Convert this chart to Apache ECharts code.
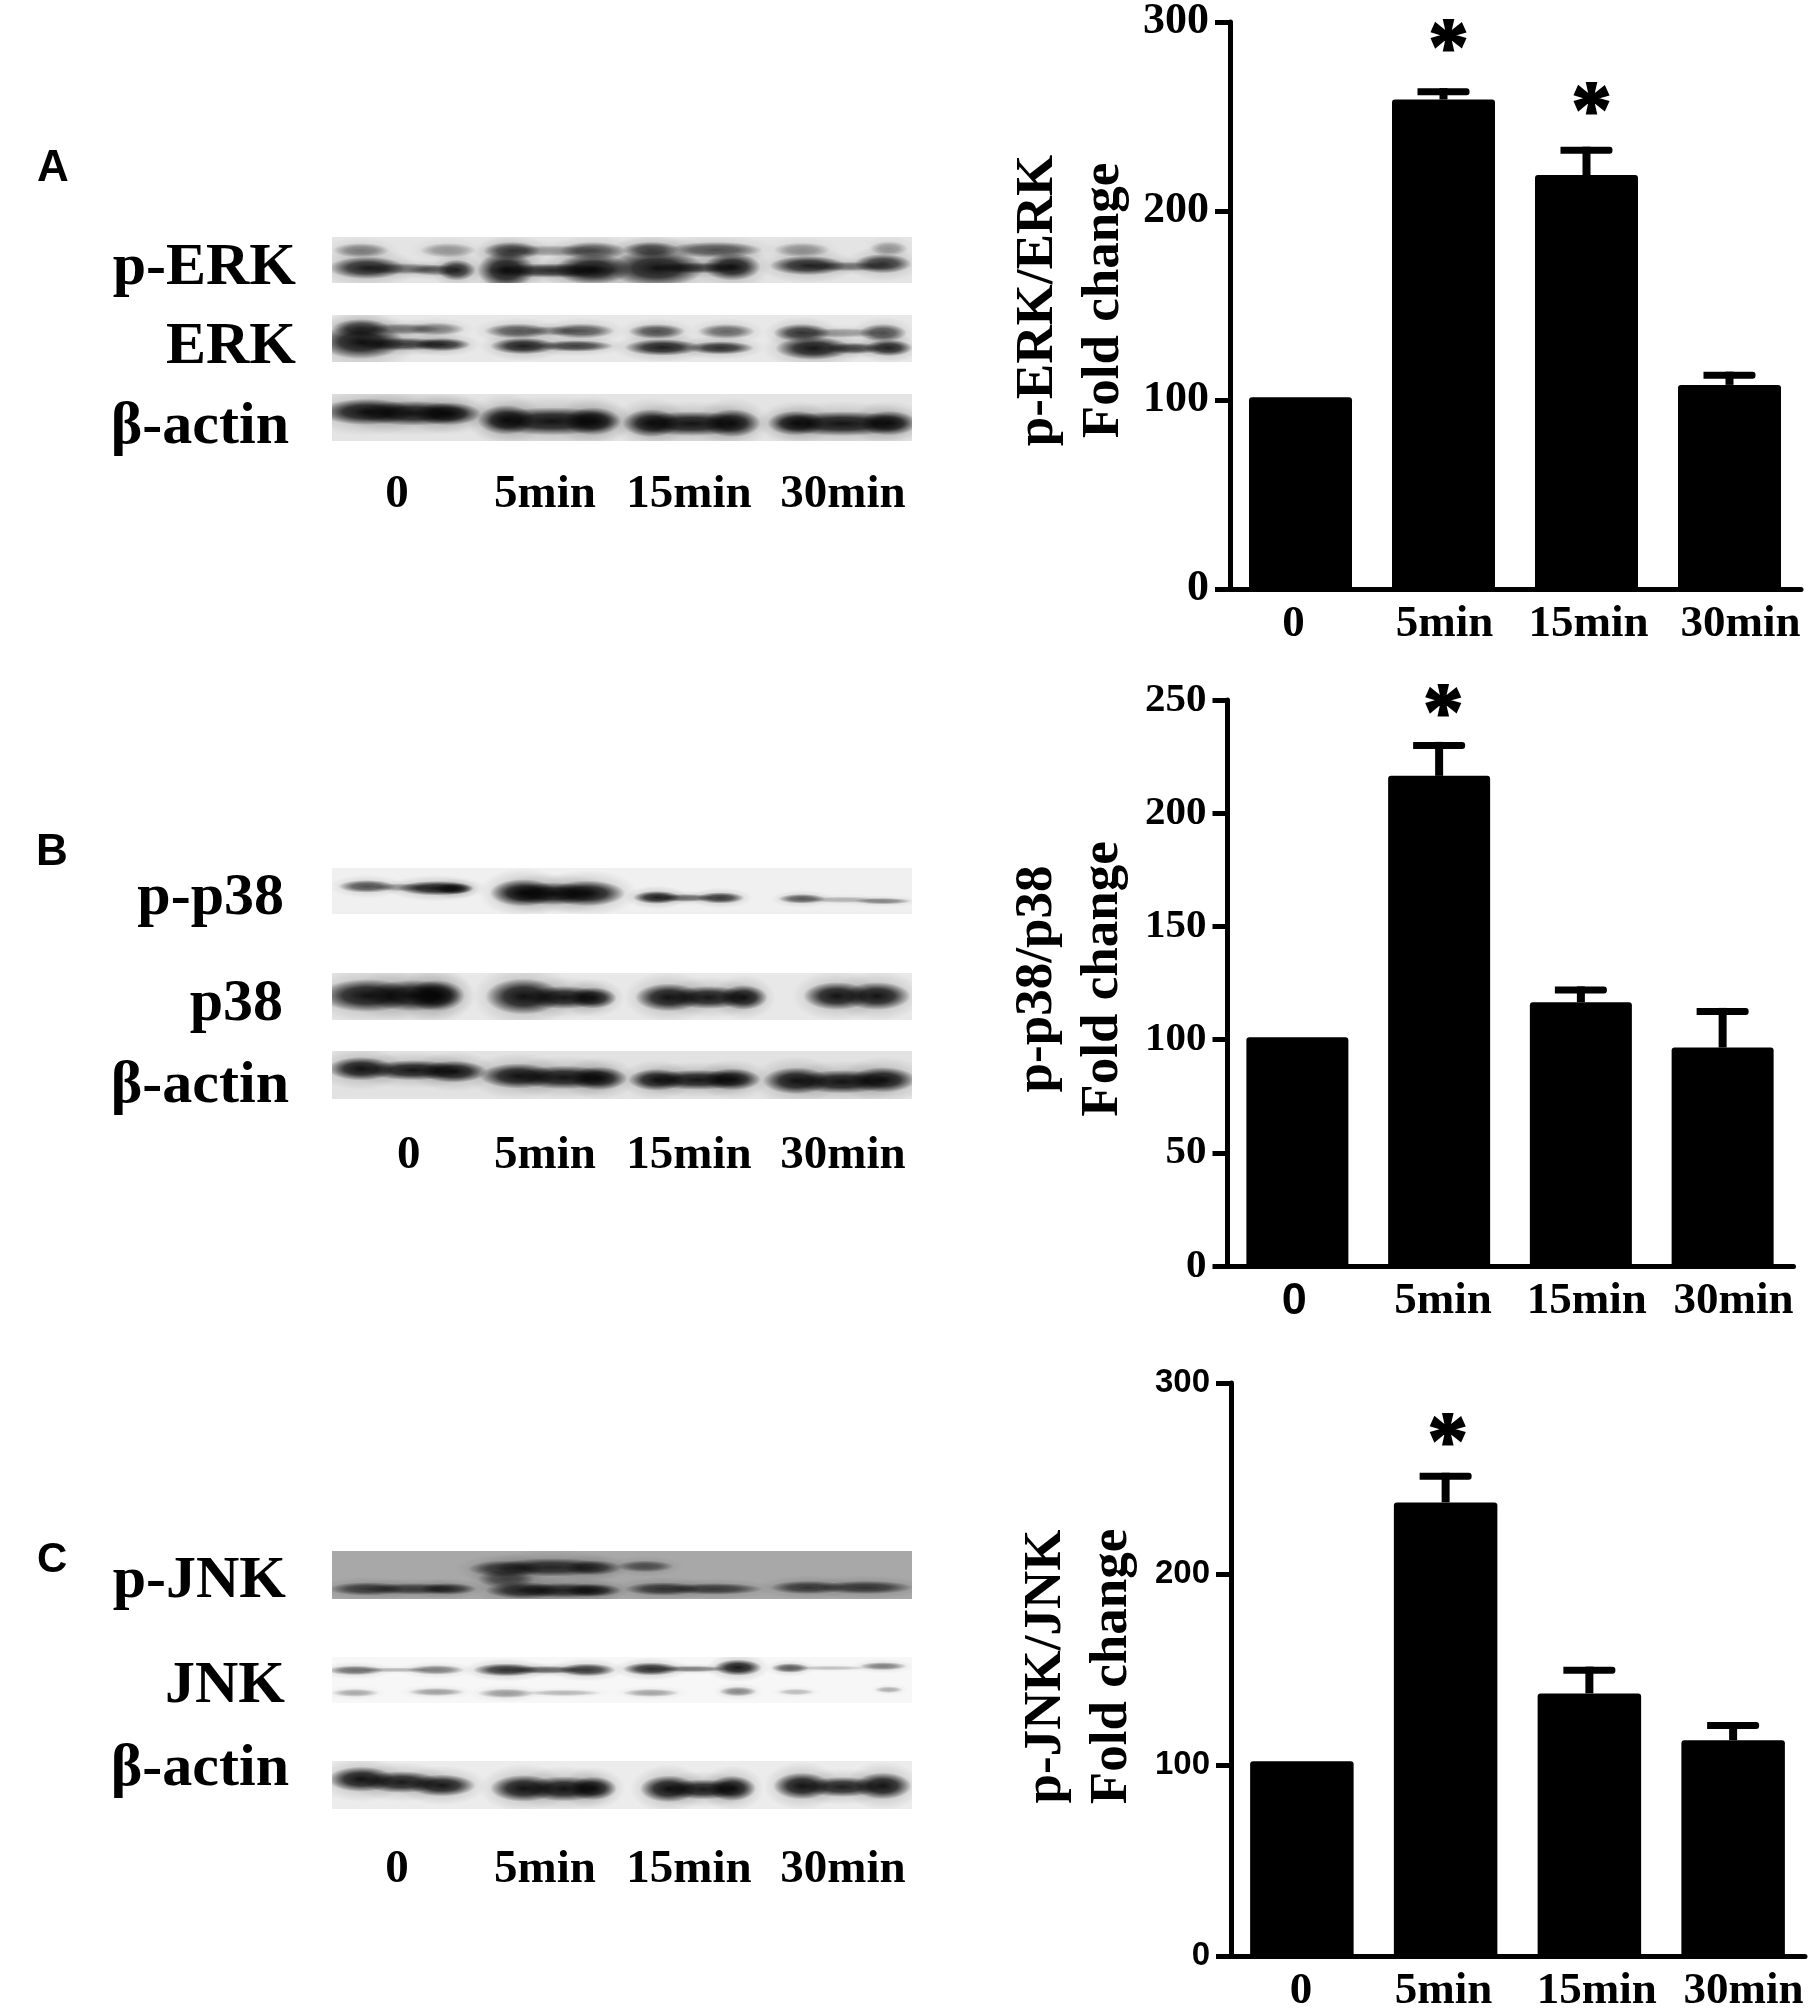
<!DOCTYPE html>
<html><head><meta charset="utf-8">
<style>html,body{margin:0;padding:0;background:#fff}#c{width:1813px;height:2014px}</style>
<script src="https://cdn.jsdelivr.net/npm/echarts@6/dist/echarts.min.js"></script>
</head><body><div id="c"></div>
<script>
// ---------- data ----------
const timeLabels = ['0', '5min', '15min', '30min'];
const meansA = [101.5, 259, 219, 108];
const upperA = [null, 265, 234, 115];
const starsA = [null, 293, 259.5, null];
const meansB = [101, 216.5, 116.5, 96.5];
const upperB = [null, 231.5, 123.5, 114];
const starsB = [null, 250, null, null];
const meansC = [102, 237.5, 137.5, 113];
const upperC = [null, 253, 151.5, 122.5];
const starsC = [null, 276, null, null];
const ticksMaxA = 300, ticksMaxB = 250, ticksMaxC = 300;

// Western blot lobes: [x %, y %, rx %, ry %, grey]
const blotPErk = [
 [5,29,3,9,140],[20,29,3,9,165],[31,30,3,11,70],[38,30,6,7,170],[45,30,3.5,11,100],[55,28,3,10,70],[66,28,5,10,90],[81,28,3,9,160],[96,25,2,9,170],
 [6,67,4,14,30],[12,69,5,7,130],[18,72,3,7,130],[21.5,72,2,13,40],[30,72,3,23,10],[38,73,7,9,40],[45,70,4,19,10],[56,68,5,23,10],[63,67,5,7,80],[69,65,3,17,10],[82,62,4,12,30],[89,64,5,6,130],[95,58,3,12,50]];
const blotErk = [
 [5,28,3,11,60],[12,30,4,7,130],[18,30,3,8,140],[32,34,3.5,9,90],[38,34,3,6,170],[43,34,3.5,9,90],[56,35,3,9,80],[68,35,3,9,110],[81,38,3,11,50],[88,38,4,6,170],[95,38,2.5,11,80],
 [5,57,4.5,21,5],[12,62,5,8,60],[19,63,3,8,40],[33,66,3.5,10,20],[42,66,4,7,60],[57,69,4,10,20],[67,70,3.5,8,40],[83,71,4,14,10],[90,71,3,7,70],[96,70,2.5,10,25]];
const blotActinA = [
 [6,38,5,16,5],[14,41,6,15,10],[20,42,3.5,14,10],[30,55,3,18,10],[38,58,7,17,5],[45,58,3,17,10],[55,62,3,17,10],[62,63,6,15,5],[69,62,3,17,10],[80,62,3,15,10],[88,63,7,15,5],[96,62,3,15,10]];
const blotPP38 = [
 [6,40,3,8,80],[12,42,3,5,170],[18,44,4,9,15],[21,45,2,7,40],[33,54,3.5,17,5],[38,56,5,14,5],[44,55,4,16,5],[56,64,2.5,8,20],[61,65,3,5,110],[67,65,2.5,7,50],[81,67,2.5,6,90],[88,69,4,4,190],[95,72,3,4,140]];
const blotP38 = [
 [6,48,5,20,5],[14,48,5,19,5],[18,48,3,19,5],[33,50,4,22,3],[40,52,4,14,10],[45,53,2.5,13,10],[58,52,3.5,17,5],[65,52,4,14,10],[71,52,2.5,15,5],[87,49,3.5,17,5],[94,49,3.5,17,5]];
const blotActinB = [
 [5,37,3.5,14,5],[14,40,5,12,10],[21,43,3.5,13,5],[32,52,4,15,5],[40,55,5,14,8],[46,57,3,14,5],[56,60,3,13,10],[63,60,5,12,10],[69,59,3,13,8],[80,62,3.5,16,5],[88,64,5,14,5],[95,60,3.5,15,5]];
const blotPJnk = [
 [6,79,4,8,80],[14,79,5,7,85],[20,79,3,7,75],[33,82,4,10,45],[40,82,5,9,50],[45,82,3,8,60],[57,79,4,8,70],[66,79,5,7,80],[82,76,4,8,75],[92,76,5,8,70],
 [30,37,4,10,70],[38,34,6,11,50],[45,35,3,9,80],[54,32,3,7,110],[30,58,3,11,105]];
const blotJnk = [
 [4,29,3,6,110],[11,28,4,3,190],[18,28,3,6,130],[30,28,3.5,8,40],[37,28,4,5,100],[44,28,3,8,50],[55,26,3,8,35],[62,26,4,4,130],[70,23,2.5,10,10],[79,24,2,6,90],[86,24,4,3,200],[95,20,2.5,5,130],
 [4,78,2.5,5,175],[18,76,3,5,165],[30,79,3,6,160],[40,78,4,4,190],[55,78,3,5,170],[70,75,2,6,140],[80,76,2,4,195],[96,71,1.5,4,180]];
const blotActinC = [
 [5,38,3.5,15,5],[12,44,4,13,15],[19,51,3.5,13,10],[33,57,3.5,16,5],[40,58,4,15,5],[45,57,2.5,14,5],[58,58,3,16,5],[64,59,4,12,15],[69,57,2.5,15,5],[81,52,3,16,5],[88,54,4,12,20],[95,52,3,16,5]];

// ---------- layout ----------
const SERIF = '"Liberation Serif"', SANS = '"Liberation Sans"';
const strips = [
 {d:blotPErk,  top:237,  h:46, bg:'#e4e4e4'},{d:blotErk,   top:315,  h:47, bg:'#e8e8e8'},{d:blotActinA,top:394,  h:47, bg:'#e4e4e4'},
 {d:blotPP38,  top:868,  h:46, bg:'#f0f0f0'},{d:blotP38,   top:973,  h:47, bg:'#e8e8e8'},{d:blotActinB,top:1051, h:48, bg:'#e2e2e2'},
 {d:blotPJnk,  top:1551, h:48, bg:'#a8a8a8'},{d:blotJnk,   top:1657, h:46, bg:'#f7f7f7'},{d:blotActinC,top:1761, h:48, bg:'#ececec'}];
const panels = [
 {name:'p-ERK/ERK\nFold change', m:meansA,u:upperA,s:starsA,max:ticksMaxA,iv:100,left:1229,top:17,w:572,h:572,bw:103,gap:93,tickFont:SERIF,tickSize:44,
  dx:[-7,1,2,11],starDx:5,nameUp:10},
 {name:'p-p38/p38\nFold change', m:meansB,u:upperB,s:starsB,max:ticksMaxB,iv:50,left:1226.5,top:700,w:567,h:566,bw:102,gap:91,tickFont:SERIF,tickSize:41,
  dx:[-3,4,6,11],starDx:4,zeroSans:true,nameUp:8},
 {name:'p-JNK/JNK\nFold change', m:meansC,u:upperC,s:starsC,max:ticksMaxC,iv:100,left:1230,top:1383,w:575,h:575,bw:103.5,gap:86,tickFont:SANS,tickSize:33,
  dx:[-1,-2,7.5,10.5],starDx:2,nameUp:6}];
const grid=[],xAxis=[],yAxis=[],series=[],graphic=[];

strips.forEach((st,i)=>{
  grid.push({left:332,top:st.top,width:580,height:st.h,show:true,backgroundColor:st.bg,borderWidth:0});
  xAxis.push({gridIndex:i,type:'value',min:0,max:100,show:false});
  yAxis.push({gridIndex:i,type:'value',min:0,max:100,inverse:true,show:false});
  series.push({type:'custom',xAxisIndex:i,yAxisIndex:i,clip:true,silent:true,data:st.d,
    renderItem:(p,api)=>{
      const c=api.coord([api.value(0),api.value(1)]);
      const sz=api.size([api.value(2),api.value(3)]);
      const a=1-api.value(4)/255;
      const lobe=(kx,ky,al)=>({type:'circle',x:c[0],y:c[1],scaleX:sz[0]*kx/50,scaleY:sz[1]*ky/50,
        shape:{cx:0,cy:0,r:50},
        style:{fill:{type:'radial',x:0.5,y:0.5,r:0.5,colorStops:[
          {offset:0,color:`rgba(0,0,0,${al})`},{offset:0.5,color:`rgba(0,0,0,${al*0.8})`},{offset:1,color:'rgba(0,0,0,0)'}]}}});
      return {type:'group',children:[lobe(2.2,3.2,a*0.16),lobe(1.65,1.75,a*0.92)]};
    }});
});

panels.forEach((p,k)=>{
  const gi=grid.length;
  grid.push({left:p.left,top:p.top,width:p.w,height:p.h});
  const rich={};
  timeLabels.forEach((t,i)=>{
    const d=p.dx[i];
    rich['l'+i]={fontFamily:(p.zeroSans&&i===0)?SANS:SERIF,fontWeight:'bold',fontSize:45,color:'#000',
      padding:d>0?[0,0,0,2*d]:[0,2*-d,0,0]};
  });
  xAxis.push({gridIndex:gi,type:'category',data:timeLabels,
    axisLine:{lineStyle:{color:'#000',width:5}},axisTick:{show:false},
    axisLabel:{margin:13,interval:0,formatter:(v,i)=>`{l${i}|${v}}`,rich}});
  yAxis.push({gridIndex:gi,type:'value',min:0,max:p.max,interval:p.iv,offset:-1,splitLine:{show:false},
    axisLine:{show:true,lineStyle:{color:'#000',width:5}},
    axisTick:{show:true,length:15,lineStyle:{color:'#000',width:5}},
    axisLabel:{margin:21,color:'#000',fontFamily:p.tickFont,fontWeight:'bold',fontSize:p.tickSize},
    name:p.name,nameLocation:'middle',nameRotate:90,nameGap:p.gap,
    nameTextStyle:{color:'#000',fontFamily:SERIF,fontWeight:'bold',fontSize:53,lineHeight:66,padding:[0,0,0,p.nameUp]}});
  series.push({type:'bar',xAxisIndex:gi,yAxisIndex:gi,data:p.m,barWidth:p.bw,
    itemStyle:{color:'#000',borderRadius:[3,3,0,0]}});
  series.push({type:'custom',xAxisIndex:gi,yAxisIndex:gi,silent:true,z:3,
    data:p.m.map((v,i)=>[i,v,p.u[i]]).filter(r=>r[2]!==null),
    encode:{x:0,y:[1,2]},
    renderItem:(q,api)=>{
      const a=api.coord([api.value(0),api.value(1)]),b=api.coord([api.value(0),api.value(2)]);
      return {type:'group',children:[
        {type:'rect',shape:{x:a[0]-4,y:b[1],width:8,height:a[1]-b[1]},style:{fill:'#000'}},
        {type:'rect',shape:{x:a[0]-26,y:b[1],width:52,height:7,r:[0,3,3,0]},style:{fill:'#000'}}]};
    }});
  series.push({type:'scatter',xAxisIndex:gi,yAxisIndex:gi,silent:true,symbolSize:1,z:4,
    itemStyle:{color:'rgba(0,0,0,0)'},
    data:p.s.map((v,i)=>[i,v]).filter(r=>r[1]!==null),
    label:{show:true,position:'inside',formatter:'*',color:'#000',textBorderColor:'#000',textBorderWidth:2,opacity:1,
      fontFamily:SERIF,fontWeight:'bold',fontSize:80,offset:[p.starDx,17]}});
});

// ---------- western-blot captions ----------
const txt=(text,x,y,size,align,family)=>graphic.push({type:'text',x,y,silent:true,z:10,
  style:{text,fontFamily:family||SERIF,fontWeight:'bold',fontSize:size,fill:'#000',align:align||'right',verticalAlign:'bottom'}});
// y is the bottom of the text box
const blotNames=[['p-ERK',296,298],['ERK',296,377],['β-actin',289,457],
  ['p-p38',284,928],['p38',283,1034],['β-actin',289,1116],
  ['p-JNK',286,1611],['JNK',285,1716],['β-actin',289,1799]];
blotNames.forEach(n=>txt(n[0],n[1],n[2],60));
const laneCentres=[[397,545,689,843],[408.7,545,689,843],[397,545,689,843]];
const laneBottoms=[518,1179,1893];
laneCentres.forEach((xs,k)=>timeLabels.forEach((t,i)=>txt(t,xs[i],laneBottoms[k],47,'center')));
txt('A',37,191,44,'left',SANS);txt('B',36,875,44,'left',SANS);txt('C',37,1581,42,'left',SANS);

const chart=echarts.init(document.getElementById('c'),null,{renderer:'canvas',width:1813,height:2014});
chart.setOption({animation:false,backgroundColor:'#fff',grid,xAxis,yAxis,series,graphic,tooltip:{show:false},legend:{show:false}});
</script></body></html>
